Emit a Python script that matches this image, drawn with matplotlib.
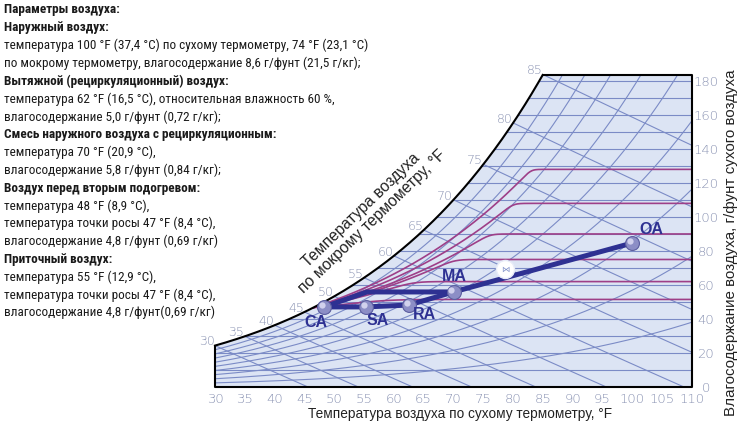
import matplotlib
matplotlib.use("Agg")
import matplotlib.pyplot as plt
import matplotlib.transforms as mtransforms
from matplotlib import font_manager as fm
from matplotlib.patches import Polygon
import numpy as np

# process points (dry bulb F, grains per lb)
point_names = ['OA', 'MA', 'RA', 'SA', 'CA']
point_t = [100.0, 70.0, 62.5, 55.3, 48.3]
point_w = [84.7, 55.9, 48.2, 47.1, 47.1]
label_off = [(13.7, 9.4), (0.7, 11), (11.5, -6.5), (8.6, -10), (-6, -11)]

# cooling coil path CA -> bend -> MA
coil_t = [48.3, 55.5, 70.0]
coil_w = [47.1, 55.9, 55.9]

# fan symbol on the OA-MA line
fan_t, fan_w = 78.7, 69.4

# magenta curves: level (gr) and dry bulb where they go flat
mag_level = [128, 108, 90, 75, 62, 51.5]
mag_flat_t = [83, 80, 76, 70, 63, 57]

wb_labels = list(range(30, 90, 5))
rh_levels = [0.1, 0.2, 0.3, 0.4, 0.5, 0.6, 0.7, 0.8, 0.9]
w_lines = list(range(10, 190, 10))
x_ticks = list(range(30, 115, 5))
y_ticks = list(range(0, 200, 20))

text_lines = [
    ("Параметры воздуха:", True),
    ("Наружный воздух:", True),
    ("температура 100 °F (37,4 °C) по сухому термометру, 74 °F (23,1 °C)", False),
    ("по мокрому термометру, влагосодержание 8,6 г/фунт (21,5 г/кг);", False),
    ("Вытяжной (рециркуляционный) воздух:", True),
    ("температура 62 °F (16,5 °C), относительная влажность 60 %,", False),
    ("влагосодержание 5,0 г/фунт (0,72 г/кг);", False),
    ("Смесь наружного воздуха с рециркуляционным:", True),
    ("температура 70 °F (20,9 °C),", False),
    ("влагосодержание 5,8 г/фунт (0,84 г/кг);", False),
    ("Воздух перед вторым подогревом:", True),
    ("температура 48 °F (8,9 °C),", False),
    ("температура точки росы 47 °F (8,4 °C),", False),
    ("влагосодержание 4,8 г/фунт (0,69 г/кг)", False),
    ("Приточный воздух:", True),
    ("температура 55 °F (12,9 °C),", False),
    ("температура точки росы 47 °F (8,4 °C),", False),
    ("влагосодержание 4,8 г/фунт(0,69 г/кг)", False),
]

W_TOP = 183.5
GRID = '#7b8bc6'
MAG = '#9e3f88'
NAVY = '#2e3192'
TICK = '#8a93b3'

names = {f.name for f in fm.fontManager.ttflist}
narrow, block_size = 'Liberation Sans', 8.4
for cand in ['Liberation Sans Narrow', 'Roboto Condensed', 'Open Sans Condensed']:
    if cand in names:
        narrow, block_size = cand, 9.5
        break
plt.rcParams['font.family'] = ['Liberation Sans', 'DejaVu Sans']


def ps_kpa(tf):
    tc = (np.asarray(tf) - 32) / 1.8
    return 0.61094 * np.exp(17.625 * tc / (tc + 243.04))


def w_gr(tf, rh=1.0):
    p = rh * ps_kpa(tf)
    return 7000 * 0.622 * p / (101.325 - p)


def w_wb(t, twb):
    ws = w_gr(twb) / 7000
    w = ((1093 - 0.556 * twb) * ws - 0.240 * (t - twb)) / (1093 + 0.444 * t - twb)
    return w * 7000


W, H = 739, 429
fig = plt.figure(figsize=(W / 100, H / 100), dpi=100)
ax = fig.add_axes([215 / W, 1 - 387 / H, (692 - 215) / W, (387 - 75) / H])
ax.set_xlim(30, 110)
ax.set_ylim(0, W_TOP)
ax.set_facecolor('none')
for s in ax.spines.values():
    s.set_visible(False)

# saturation curve and chart outline
tt = np.linspace(30, 90, 600)
ws = w_gr(tt)
t_top = np.interp(W_TOP, ws, tt)
ts = np.linspace(30, t_top, 300)
sat = w_gr(ts)
poly_x = np.concatenate([[30], ts, [110, 110]])
poly_y = np.concatenate([[0], sat, [W_TOP, 0]])
bg = Polygon(np.column_stack([poly_x, poly_y]), closed=True, facecolor='#dce4f4',
             edgecolor='none', zorder=0)
ax.add_patch(bg)

# humidity ratio lines
for w in w_lines:
    t0 = np.interp(w, ws, tt)
    ax.plot([t0, 110], [w, w], color=GRID, lw=0.8, zorder=1)

# relative humidity curves
tr = np.linspace(30, 110, 300)
for rh in rh_levels:
    l, = ax.plot(tr, w_gr(tr, rh), color=GRID, lw=0.8, zorder=1)
    l.set_clip_path(bg)

# wet bulb lines
for twb in wb_labels:
    tl = np.linspace(twb, 130, 300)
    wl = w_wb(tl, twb)
    ok = wl >= -1
    ax.plot(tl[ok], wl[ok], color=GRID, lw=0.8, zorder=1)

# magenta curves
t0m = 46.5
w0m = float(w_gr(t0m))
tm = np.linspace(t0m, 110, 400)
for lvl, tf in zip(mag_level, mag_flat_t):
    a = (lvl - w0m) / (w_gr(tf) - w0m)
    g = w0m + (w_gr(tm) - w0m) * a
    s = 1.5
    m = -s * np.log(np.exp(-g / s) + np.exp(-lvl / s))
    l, = ax.plot(tm, m, color=MAG, lw=1.2, zorder=2)
    l.set_clip_path(bg)

# outline
ax.plot(ts, sat, color='black', lw=1.5, zorder=3, clip_on=False)
ax.plot([30, 30, 110, 110, t_top], [w_gr(30), 0, 0, W_TOP, W_TOP],
        color='black', lw=1.5, zorder=3, clip_on=False)

# wet bulb labels along the saturation curve
for twb in wb_labels:
    ax.annotate(str(twb), (twb, w_gr(twb)), xytext=(-6, 3), textcoords='offset points',
                ha='center', va='center', fontsize=9, color=TICK,
                family=['DejaVu Sans'], fontweight='light', annotation_clip=False)

# process lines
ax.plot(point_t[:2], point_w[:2], color=NAVY, lw=3.6, solid_capstyle='round', zorder=5)
ax.plot(point_t[1:], point_w[1:], color=NAVY, lw=3.6, solid_joinstyle='round', zorder=5)
ax.plot(coil_t, coil_w, color=NAVY, lw=3.6, solid_joinstyle='round', zorder=5)

# fan marker
ax.plot([fan_t], [fan_w], marker='o', ms=13, mfc='white', mec='#e8ecf8', mew=1, zorder=6)
ax.text(fan_t, fan_w, '⋈', ha='center', va='center', fontsize=6, color='#8090c8',
        family=['DejaVu Sans'], zorder=7)

# balls
hl = mtransforms.offset_copy(ax.transData, fig=fig, x=-1.5, y=1.5, units='points')
ax.plot(point_t, point_w, 'o', ms=10, mfc='#8c8ec6', mec='#5c5ea0', mew=0.8, zorder=8)
ax.plot(point_t, point_w, 'o', ms=4.5, mfc='#d9d9f2', mec='none', alpha=0.9,
        transform=hl, zorder=9)

for n, t, w, off in zip(point_names, point_t, point_w, label_off):
    ax.annotate(n, (t, w), xytext=off, textcoords='offset points', ha='center',
                va='center', fontsize=11.5, fontweight='bold', color=NAVY, zorder=10)

# axes ticks
ax.set_xticks(x_ticks)
ax.set_yticks(y_ticks)
ax.yaxis.tick_right()
ax.tick_params(length=0, labelsize=9.5, labelcolor=TICK)
ax.tick_params(axis='x', pad=4)
ax.tick_params(axis='y', pad=10)
for lab in ax.get_yticklabels():
    lab.set_horizontalalignment('center')
for lab in ax.get_xticklabels() + ax.get_yticklabels():
    lab.set_family(['DejaVu Sans'])
    lab.set_fontweight('light')

fig.text(460 / W, 1 - 414 / H, 'Температура воздуха по сухому термометру, °F',
         ha='center', va='center', fontsize=9.8, color='#222222')
fig.text(731 / W, 1 - 243 / H, 'Влагосодержание воздуха, г/фунт сухого воздуха',
         ha='center', va='center', rotation=90, fontsize=10.9, color='#222222')
fig.text(367 / W, 1 - 216 / H, 'Температура воздуха\nпо мокрому термометру, °F',
         ha='center', va='center', rotation=44, rotation_mode='anchor',
         fontsize=11.3, color='#222222', linespacing=1.1)

# parameter text block
for i, (s, b) in enumerate(text_lines):
    fig.text(4 / W, 1 - (10 + 17.8 * i) / H, s, ha='left', va='center',
             fontsize=block_size, family=[narrow, 'DejaVu Sans'],
             fontweight='bold' if b else 'normal', color='#1a1a1a')

fig.savefig('out.png', dpi=100)
